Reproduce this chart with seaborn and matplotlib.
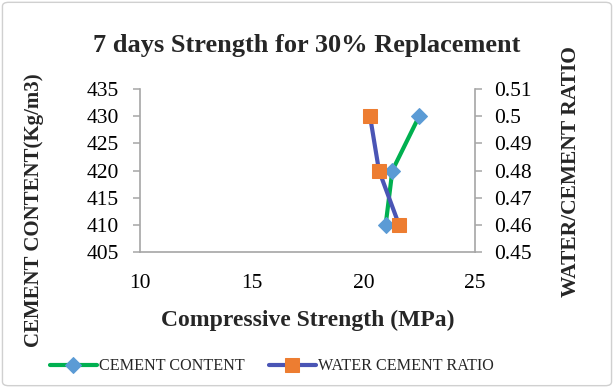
import matplotlib
matplotlib.use("Agg")
import matplotlib.pyplot as plt
import seaborn as sns
import pandas as pd
from matplotlib.patches import FancyBboxPatch

# Data
cement_content = [410, 420, 430]          # kg/m3
cement_strength = [21.0, 21.3, 22.5]      # MPa
wc_ratio = [0.46, 0.48, 0.50]
wc_strength = [21.6, 20.7, 20.3]          # MPa

x_ticks = [10, 15, 20, 25]
left_ticks = [405, 410, 415, 420, 425, 430, 435]
right_ticks = [0.45, 0.46, 0.47, 0.48, 0.49, 0.50, 0.51]
right_labels = ["0.45", "0.46", "0.47", "0.48", "0.49", "0.5", "0.51"]

sns.set_theme(style="white")
plt.rcParams["font.family"] = ["Liberation Serif", "DejaVu Serif"]

GREEN = "#00B050"
BLUE_LINE = "#4A55B5"
DIAMOND = "#5B9BD5"
ORANGE = "#ED7D31"
AXIS_GREY = "#A6A6A6"

fig = plt.figure(figsize=(6.14, 3.88), dpi=100)
ax = fig.add_axes([0.228, 0.3505, 0.5456, 0.4201])
ax2 = ax.twinx()

df_c = pd.DataFrame({"strength": cement_strength, "content": cement_content})
df_w = pd.DataFrame({"strength": wc_strength, "ratio": wc_ratio})

sns.lineplot(data=df_c, x="strength", y="content", ax=ax, sort=False,
             color=GREEN, linewidth=3.0, marker="D", markersize=8.5,
             markerfacecolor=DIAMOND, markeredgecolor=DIAMOND, zorder=3)
sns.lineplot(data=df_w, x="strength", y="ratio", ax=ax2, sort=False,
             color=BLUE_LINE, linewidth=3.0, marker="s", markersize=10.5,
             markerfacecolor=ORANGE, markeredgecolor=ORANGE, zorder=3)

ax.set_xlim(10, 25)
ax.set_ylim(405, 435)
ax2.set_ylim(0.45, 0.51)
ax.set_xticks(x_ticks)
ax.set_yticks(left_ticks)
ax2.set_yticks(right_ticks)
ax2.set_yticklabels(right_labels)

for a in (ax, ax2):
    a.set_facecolor("none")
    a.grid(False)
    a.spines["top"].set_visible(False)
    for side in ("left", "right", "bottom"):
        a.spines[side].set_color(AXIS_GREY)
        a.spines[side].set_linewidth(1.2)
ax.spines["right"].set_visible(False)
ax2.spines["left"].set_visible(False)
ax2.spines["bottom"].set_visible(False)

ax.tick_params(axis="both", direction="out", length=5, width=1.1,
               color=AXIS_GREY, labelsize=15.5, labelcolor="#000000")
ax.tick_params(axis="x", pad=11)
ax.tick_params(axis="y", pad=10)
ax2.tick_params(axis="y", direction="out", length=5, width=1.1,
                color=AXIS_GREY, labelsize=15.5, labelcolor="#000000", pad=9)

ax.set_xlabel("Compressive Strength (MPa)", fontsize=17, fontweight="bold",
              labelpad=12)
ax.set_ylabel("")
ax2.set_ylabel("")
fig.text(0.056, 0.459, "CEMENT CONTENT(Kg/m3)", rotation=90, fontsize=15,
         fontweight="bold", ha="center", va="center")
fig.text(0.93, 0.557, "WATER/CEMENT RATIO", rotation=90, fontsize=15.5,
         fontweight="bold", ha="center", va="center")
fig.text(0.5, 0.883, "7 days Strength for 30% Replacement", fontsize=19,
         fontweight="bold", ha="center", va="center")

h1 = ax.get_lines()[0]
h2 = ax2.get_lines()[0]
fig.legend([h1, h2], ["CEMENT CONTENT", "WATER CEMENT RATIO"],
           loc="center", bbox_to_anchor=(0.443, 0.056), ncol=2, frameon=False,
           fontsize=11.6, handlelength=2.9, handletextpad=0.15,
           columnspacing=1.5)

fig.patches.append(FancyBboxPatch((0.004, 0.006), 0.992, 0.988,
                                  boxstyle="round,pad=0,rounding_size=0.01",
                                  transform=fig.transFigure, fill=False,
                                  edgecolor="#D0D0D0", linewidth=1.0))

fig.savefig("out.png", dpi=100)
